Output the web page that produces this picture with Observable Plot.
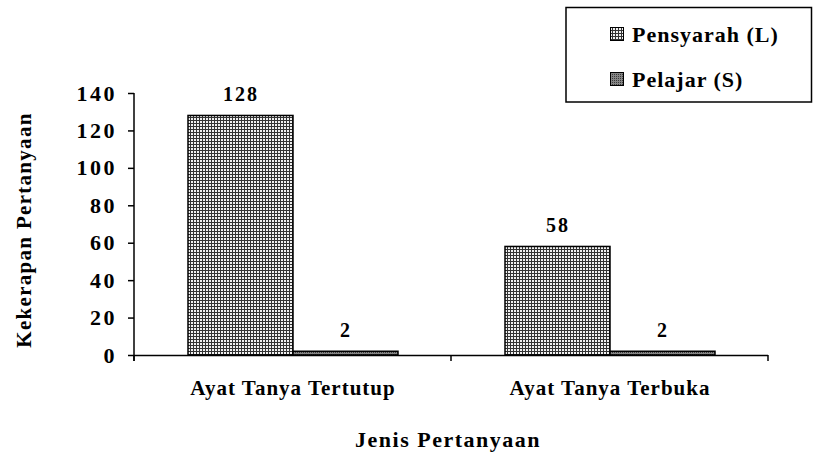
<!DOCTYPE html>
<html>
<head>
<meta charset="utf-8">
<script src="https://cdn.jsdelivr.net/npm/d3@7"></script>
<script src="https://cdn.jsdelivr.net/npm/@observablehq/plot@0.6"></script>
<style>
  body { margin: 0; background: #fff; }
  #chart { position: relative; width: 814px; height: 454px; }
  #chart svg, #chart svg text { font-family: "Liberation Serif", "Tinos", "Times New Roman", Times, "DejaVu Serif", serif !important; font-weight: bold; fill: #000; }
  g[aria-label="y-axis tick label"] text { letter-spacing: 2.5px; }
  g[aria-label="fx-axis tick label"] text { letter-spacing: 1px; }
  g[aria-label="text"] text { letter-spacing: 2px; }
</style>
</head>
<body>
<div id="chart"></div>
<script>
const categories = ["Ayat Tanya Tertutup", "Ayat Tanya Terbuka"];
const series = ["Pensyarah (L)", "Pelajar (S)"];
const pensyarah = [128, 58];
const pelajar = [2, 2];
const yTicks = [0, 20, 40, 60, 80, 100, 120, 140];
const yTitle = "Kekerapan Pertanyaan";
const xTitle = "Jenis Pertanyaan";

const patternIds = {"Pensyarah (L)": "patGrid", "Pelajar (S)": "patDots"};
const data = categories.flatMap((c, i) => [
  {cat: c, s: series[0], v: pensyarah[i]},
  {cat: c, s: series[1], v: pelajar[i]}
]);

const plot = Plot.plot({
  width: 814,
  height: 454,
  marginLeft: 133,
  marginRight: 46,
  marginTop: 93,
  marginBottom: 99,
  style: {fontWeight: "bold", color: "#000", background: "#fff"},
  fx: {domain: categories, padding: 0, axis: null},
  x: {domain: series, paddingInner: 0, paddingOuter: 0.5, axis: null},
  y: {domain: [0, 140], axis: null},
  marks: [
    Plot.barY(data.filter(d => d.s === series[0]), {fx: "cat", x: "s", y: "v", fill: `url(#${patternIds[series[0]]})`, stroke: "#000", strokeWidth: 1.5}),
    Plot.barY(data.filter(d => d.s === series[1]), {fx: "cat", x: "s", y: "v", fill: `url(#${patternIds[series[1]]})`, stroke: "#000", strokeWidth: 1.5}),
    Plot.ruleY([0], {stroke: "#000", strokeWidth: 1.5}),
    Plot.text(data, {fx: "cat", x: "s", y: "v", text: d => String(d.v), dy: -15, lineAnchor: "bottom", fontSize: 20, fontWeight: "bold"}),
    Plot.axisY({ticks: yTicks, tickSize: 6, tickPadding: 11.5, fontSize: 22, label: null, stroke: "#000", strokeWidth: 1.5}),
    Plot.axisFx({anchor: "bottom", tickSize: 0, tickPadding: 25, fontSize: 21, label: null})
  ]
});

document.getElementById("chart").appendChild(plot);

const svg = d3.select(plot);
const defs = svg.insert("defs", ":first-child");
const g1 = defs.append("pattern").attr("id", "patGrid").attr("patternUnits", "userSpaceOnUse")
  .attr("width", 3).attr("height", 3);
g1.append("rect").attr("width", 3).attr("height", 3).attr("fill", "#f0f0f0");
g1.append("rect").attr("width", 3).attr("height", 1).attr("fill", "#333");
g1.append("rect").attr("width", 1).attr("height", 3).attr("fill", "#333");
const g2 = defs.append("pattern").attr("id", "patDots").attr("patternUnits", "userSpaceOnUse")
  .attr("width", 2).attr("height", 2);
g2.append("rect").attr("width", 2).attr("height", 2).attr("fill", "#858585");
g2.append("rect").attr("width", 1).attr("height", 1).attr("fill", "#3a3a3a");

const fx = plot.scale("fx");
const y = plot.scale("y");
const y0 = y.apply(0);
const yTop = y.apply(140);
const left = fx.apply(categories[0]);
svg.append("line").attr("x1", left).attr("x2", left).attr("y1", yTop).attr("y2", y0 + 6)
  .attr("stroke", "#000").attr("stroke-width", 1.5);
const bounds = categories.map(c => fx.apply(c)).concat([fx.apply(categories[categories.length - 1]) + fx.bandwidth]);
bounds.forEach(b => {
  svg.append("line").attr("x1", b).attr("x2", b).attr("y1", y0).attr("y2", y0 + 6)
    .attr("stroke", "#000").attr("stroke-width", 1.5);
});
const right = bounds[bounds.length - 1];
svg.append("text").attr("transform", `translate(31,${(yTop + y0) / 2 + 6}) rotate(-90)`)
  .attr("text-anchor", "middle").attr("font-size", 21).style("letter-spacing", "1.3px").text(yTitle);
svg.append("text").attr("x", (left + right) / 2 - 3).attr("y", 447)
  .attr("text-anchor", "middle").attr("font-size", 22).style("letter-spacing", "1.5px").text(xTitle);

const lg = svg.append("g");
lg.append("rect").attr("x", 566).attr("y", 7.5).attr("width", 245.5).attr("height", 94.5)
  .attr("fill", "#fff").attr("stroke", "#000").attr("stroke-width", 1.5);
series.forEach((s, i) => {
  lg.append("rect").attr("x", 610.5).attr("y", 27.5 + i * 45).attr("width", 13).attr("height", 13)
    .attr("fill", `url(#${patternIds[s]})`).attr("stroke", "#000").attr("stroke-width", 1);
  lg.append("text").attr("x", 632).attr("y", 42 + i * 45).attr("font-size", 22)
    .attr("text-anchor", "start").style("letter-spacing", "1px").text(s);
});
</script>
</body>
</html>
